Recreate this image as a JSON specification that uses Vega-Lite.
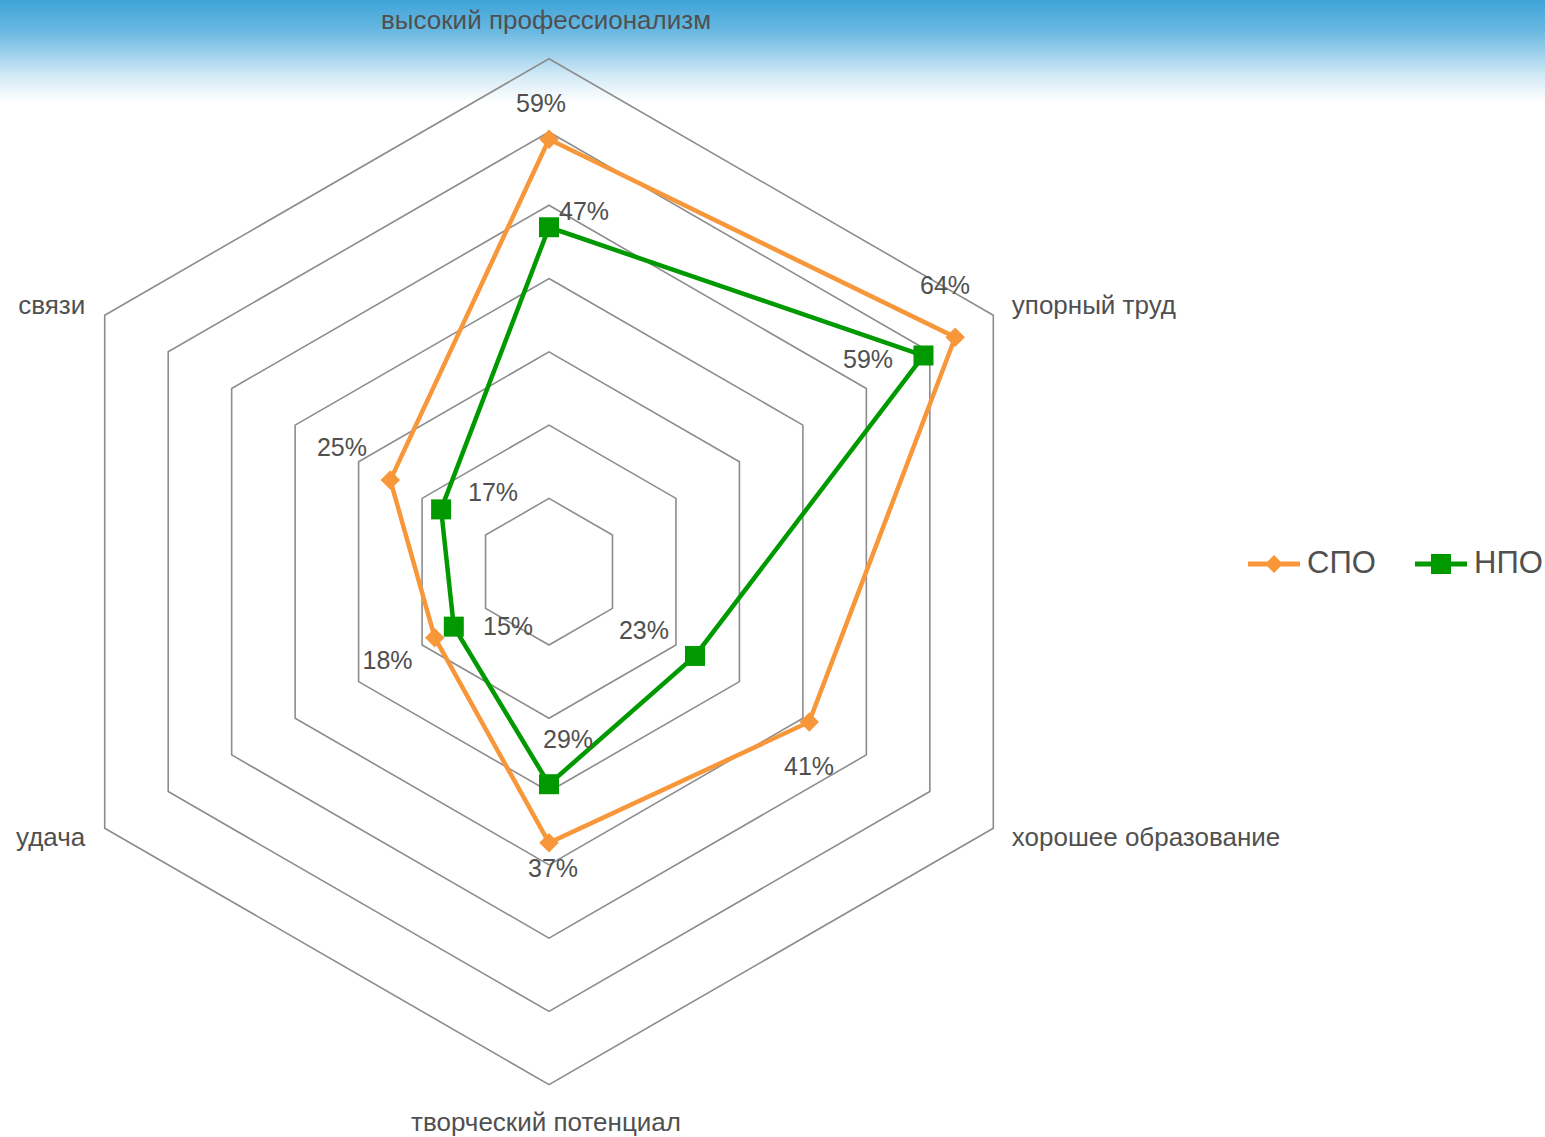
{
  "$schema": "https://vega.github.io/schema/vega-lite/v6.json",
  "width": 1545,
  "height": 1137,
  "padding": 0,
  "autosize": {"type": "none"},
  "background": "white",
  "config": {
    "view": {
      "stroke": null,
      "fill": {"gradient": "linear", "x1": 0, "y1": 0, "x2": 0, "y2": 0.09,
        "stops": [
          {"offset": 0, "color": "#40a4d8"},
          {"offset": 0.3, "color": "#68b8e2"},
          {"offset": 0.52, "color": "#9dd0ec"},
          {"offset": 0.74, "color": "#d3eaf6"},
          {"offset": 1, "color": "#ffffff"}
        ]}
    },
    "font": "Liberation Sans"
  },
  "datasets": {
    "scores": [
      {"category": "высокий профессионализм", "i": 0, "series": "СПО", "value": 0.59},
      {"category": "упорный труд", "i": 1, "series": "СПО", "value": 0.64},
      {"category": "хорошее образование", "i": 2, "series": "СПО", "value": 0.41},
      {"category": "творческий потенциал", "i": 3, "series": "СПО", "value": 0.37},
      {"category": "удача", "i": 4, "series": "СПО", "value": 0.18},
      {"category": "связи", "i": 5, "series": "СПО", "value": 0.25},
      {"category": "высокий профессионализм", "i": 0, "series": "НПО", "value": 0.47},
      {"category": "упорный труд", "i": 1, "series": "НПО", "value": 0.59},
      {"category": "хорошее образование", "i": 2, "series": "НПО", "value": 0.23},
      {"category": "творческий потенциал", "i": 3, "series": "НПО", "value": 0.29},
      {"category": "удача", "i": 4, "series": "НПО", "value": 0.15},
      {"category": "связи", "i": 5, "series": "НПО", "value": 0.17}
    ],
    "grid": [
      {"level": 0.1, "i": [0, 1, 2, 3, 4, 5]},
      {"level": 0.2, "i": [0, 1, 2, 3, 4, 5]},
      {"level": 0.3, "i": [0, 1, 2, 3, 4, 5]},
      {"level": 0.4, "i": [0, 1, 2, 3, 4, 5]},
      {"level": 0.5, "i": [0, 1, 2, 3, 4, 5]},
      {"level": 0.6, "i": [0, 1, 2, 3, 4, 5]},
      {"level": 0.7, "i": [0, 1, 2, 3, 4, 5]}
    ]
  },
  "encoding": {
    "x": {"field": "px", "type": "quantitative", "scale": {"domain": [-74.91, 135.9], "nice": false, "zero": false}, "axis": null},
    "y": {"field": "py", "type": "quantitative", "scale": {"domain": [-77.14, 78.01], "nice": false, "zero": false}, "axis": null}
  },
  "layer": [
    {
      "data": {"name": "grid"},
      "transform": [
        {"flatten": ["i"]},
        {"calculate": "datum.i * PI / 3", "as": "t"},
        {"calculate": "datum.level * 100 * sin(datum.t)", "as": "px"},
        {"calculate": "datum.level * 100 * cos(datum.t)", "as": "py"}
      ],
      "mark": {"type": "line", "interpolate": "linear-closed", "stroke": "#8c8c8c", "strokeWidth": 1.6},
      "encoding": {
        "detail": {"field": "level", "type": "nominal"},
        "order": {"field": "i", "type": "quantitative"}
      }
    },
    {
      "data": {"name": "scores"},
      "transform": [
        {"filter": "datum.series == 'СПО'"},
        {"calculate": "datum.i * PI / 3", "as": "t"},
        {"calculate": "datum.value * 100 * sin(datum.t)", "as": "px"},
        {"calculate": "datum.value * 100 * cos(datum.t)", "as": "py"}
      ],
      "mark": {"type": "line", "interpolate": "linear-closed", "stroke": "#F7973A", "strokeWidth": 4.5},
      "encoding": {"order": {"field": "i", "type": "quantitative"}}
    },
    {
      "data": {"name": "scores"},
      "transform": [
        {"filter": "datum.series == 'СПО'"},
        {"calculate": "datum.i * PI / 3", "as": "t"},
        {"calculate": "datum.value * 100 * sin(datum.t)", "as": "px"},
        {"calculate": "datum.value * 100 * cos(datum.t)", "as": "py"}
      ],
      "mark": {"type": "point", "shape": "diamond", "filled": true, "size": 380, "color": "#F7973A", "opacity": 1},
      "encoding": {}
    },
    {
      "data": {"name": "scores"},
      "transform": [
        {"filter": "datum.series == 'НПО'"},
        {"calculate": "datum.i * PI / 3", "as": "t"},
        {"calculate": "datum.value * 100 * sin(datum.t)", "as": "px"},
        {"calculate": "datum.value * 100 * cos(datum.t)", "as": "py"}
      ],
      "mark": {"type": "line", "interpolate": "linear-closed", "stroke": "#009A00", "strokeWidth": 4.5},
      "encoding": {"order": {"field": "i", "type": "quantitative"}}
    },
    {
      "data": {"name": "scores"},
      "transform": [
        {"filter": "datum.series == 'НПО'"},
        {"calculate": "datum.i * PI / 3", "as": "t"},
        {"calculate": "datum.value * 100 * sin(datum.t)", "as": "px"},
        {"calculate": "datum.value * 100 * cos(datum.t)", "as": "py"}
      ],
      "mark": {"type": "point", "shape": "square", "filled": true, "size": 400, "color": "#009A00", "opacity": 1},
      "encoding": {}
    },
    {
      "data": {"name": "scores"},
      "transform": [
        {"calculate": "datum.i * PI / 3", "as": "t"},
        {"calculate": "datum.value * 100 * sin(datum.t) + (datum.series == 'СПО' ? [-1.09, -1.39, -0.03, 0.55, -6.45, -6.6] : [4.78, -7.56, -6.96, 2.59, 7.4, 7.08])[datum.i]", "as": "px"},
        {"calculate": "datum.value * 100 * cos(datum.t) + (datum.series == 'СПО' ? [4.82, 6.98, -6.15, -3.57, -3.19, 4.38] : [2.08, -0.61, 3.41, 6.03, -0.05, 2.24])[datum.i]", "as": "py"}
      ],
      "mark": {"type": "text", "fontSize": 25, "color": "#505050", "align": "center", "baseline": "middle"},
      "encoding": {"text": {"field": "value", "type": "quantitative", "format": ".0%"}}
    },
    {
      "data": {"name": "scores"},
      "transform": [
        {"filter": "datum.series == 'СПО' && (datum.i == 0 || datum.i == 3)"},
        {"calculate": "datum.i * PI / 3", "as": "t"},
        {"calculate": "75.2 * sin(datum.t)", "as": "px"},
        {"calculate": "75.2 * cos(datum.t)", "as": "py"}
      ],
      "mark": {"type": "text", "fontSize": 26, "color": "#505050", "align": "center", "baseline": "middle", "dx": -3},
      "encoding": {"text": {"field": "category", "type": "nominal"}}
    },
    {
      "data": {"name": "scores"},
      "transform": [
        {"filter": "datum.series == 'СПО' && (datum.i == 1 || datum.i == 2)"},
        {"calculate": "datum.i * PI / 3", "as": "t"},
        {"calculate": "72.6 * sin(datum.t)", "as": "px"},
        {"calculate": "72.6 * cos(datum.t)", "as": "py"}
      ],
      "mark": {"type": "text", "fontSize": 26, "color": "#505050", "align": "left", "baseline": "middle", "dx": 2},
      "encoding": {"text": {"field": "category", "type": "nominal"}}
    },
    {
      "data": {"name": "scores"},
      "transform": [
        {"filter": "datum.series == 'СПО' && (datum.i == 4 || datum.i == 5)"},
        {"calculate": "datum.i * PI / 3", "as": "t"},
        {"calculate": "72.6 * sin(datum.t)", "as": "px"},
        {"calculate": "72.6 * cos(datum.t)", "as": "py"}
      ],
      "mark": {"type": "text", "fontSize": 26, "color": "#505050", "align": "right", "baseline": "middle", "dx": -3},
      "encoding": {"text": {"field": "category", "type": "nominal"}}
    },
    {
      "data": {"name": "scores"},
      "transform": [
        {"filter": "false"},
        {"calculate": "0", "as": "px"},
        {"calculate": "0", "as": "py"}
      ],
      "mark": {"type": "point", "filled": true, "opacity": 1},
      "encoding": {
        "color": {
          "field": "series", "type": "nominal",
          "scale": {"domain": ["СПО", "НПО"], "range": ["#F7973A", "#009A00"]},
          "legend": {
            "title": null, "orient": "none", "legendX": 1248, "legendY": 538,
            "direction": "horizontal", "symbolSize": 2704, "symbolStrokeWidth": 0,
            "labelFontSize": 31, "labelColor": "#505050", "labelFont": "Liberation Sans",
            "labelOffset": 7, "columnPadding": 39, "padding": 0, "symbolOpacity": 1
          }
        },
        "shape": {
          "field": "series", "type": "nominal",
          "scale": {"domain": ["СПО", "НПО"], "range": [
            "M-1,-0.096L1,-0.096L1,0.096L-1,0.096ZM0,-0.346L0.346,0L0,0.346L-0.346,0Z",
            "M-1,-0.096L1,-0.096L1,0.096L-1,0.096ZM-0.385,-0.385L0.385,-0.385L0.385,0.385L-0.385,0.385Z"
          ]},
          "legend": {
            "title": null, "orient": "none", "legendX": 1248, "legendY": 538,
            "direction": "horizontal", "symbolSize": 2704, "symbolStrokeWidth": 0,
            "labelFontSize": 31, "labelColor": "#505050", "labelFont": "Liberation Sans",
            "labelOffset": 7, "columnPadding": 39, "padding": 0, "symbolOpacity": 1
          }
        }
      }
    }
  ]
}
